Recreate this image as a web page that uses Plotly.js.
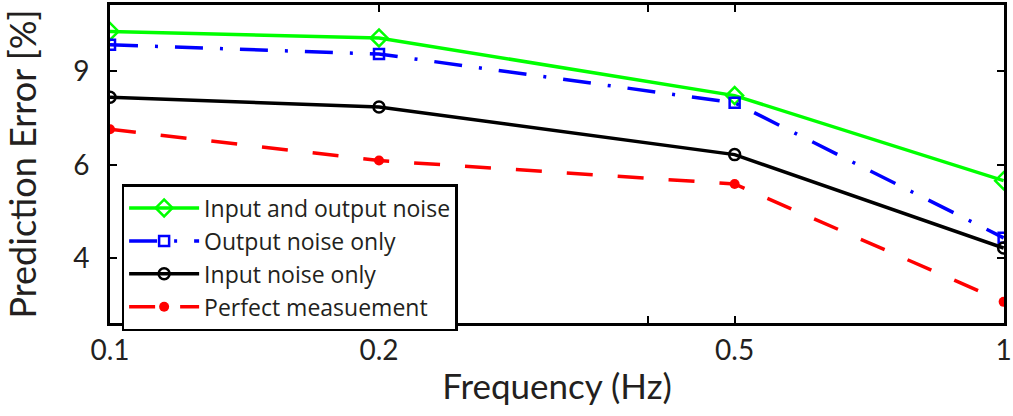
<!DOCTYPE html>
<html><head><meta charset="utf-8">
<script src="https://cdn.plot.ly/plotly-3.0.1.min.js"></script>
<style>html,body{margin:0;padding:0;background:#fff}#chart{width:1013px;height:416px}</style>
</head><body><div id="chart"></div>
<script>
const freq = [0.1, 0.2, 0.5, 1];
const inputOutputNoise = [10.7, 10.4, 8.1, 5.6];
const outputNoiseOnly = [10.1, 9.7, 7.85, 4.37];
const inputNoiseOnly = [8.04, 7.71, 6.27, 4.18];
const perfectMeasurement = [7.0, 6.11, 5.52, 3.31];
const seriesNames = ['Input and output noise', 'Output noise only', 'Input noise only', 'Perfect measuement'];
const xTickVals = [0.1, 0.2, 0.4, 0.5, 1];
const xTickText = ['0.1', '0.2', '', '0.5', '1'];
const yTickVals = [4, 6, 9];
const yTickText = ['4', '6', '9'];

const font = 'Lato, "Open Sans", sans-serif';
const legendFont = '"Open Sans", Lato, sans-serif';
const txt = '#231f20';
const traces = [
  {x: freq, y: inputOutputNoise, name: seriesNames[0], mode: 'lines+markers',
   line: {color: '#00ff00', width: 3.5}, marker: {symbol: 'diamond-open', size: 13, color: '#00ff00', line: {width: 2.5}}},
  {x: freq, y: outputNoiseOnly, name: seriesNames[1], mode: 'lines+markers',
   line: {color: '#0000ff', width: 3.5, dash: '28px,17px,3px,17px'}, marker: {symbol: 'square-open', size: 10, color: '#0000ff', line: {width: 2.5}}},
  {x: freq, y: inputNoiseOnly, name: seriesNames[2], mode: 'lines+markers',
   line: {color: '#000000', width: 3.5}, marker: {symbol: 'circle-open', size: 11, color: '#000000', line: {width: 2.5}}},
  {x: freq, y: perfectMeasurement, name: seriesNames[3], mode: 'lines+markers',
   line: {color: '#ff0000', width: 3.5, dash: '26px,25px'}, marker: {symbol: 'circle', size: 10, color: '#ff0000'}}
];

const layout = {
  width: 1013, height: 416,
  margin: {l: 110, r: 9, t: 5, b: 93},
  paper_bgcolor: '#fff', plot_bgcolor: '#fff',
  font: {family: font, color: txt},
  showlegend: true,
  legend: {x: 0.013, y: 0.437, xanchor: 'left', yanchor: 'top', bgcolor: '#fff',
    bordercolor: '#000', borderwidth: 2.5, font: {size: 23, family: legendFont, color: txt},
    itemwidth: 70, tracegroupgap: 0},
  xaxis: {type: 'log', range: [-1, 0.0004], tickvals: xTickVals, ticktext: xTickText,
    ticks: 'inside', ticklen: 7, tickwidth: 2, tickcolor: '#000',
    showline: true, linewidth: 3, linecolor: '#000', mirror: 'ticks',
    showgrid: false, zeroline: false, ticklabeloverflow: 'allow',
    tickfont: {size: 28, family: font, color: txt},
    title: {text: 'Frequency (Hz)', font: {size: 35, family: font, color: txt}, standoff: 10}},
  yaxis: {type: 'log', range: [Math.log10(3.02), Math.log10(12.0)], tickvals: yTickVals, ticktext: yTickText,
    ticks: 'inside', ticklen: 7, tickwidth: 2, tickcolor: '#000',
    showline: true, linewidth: 3, linecolor: '#000', mirror: 'ticks',
    showgrid: false, zeroline: false, ticklabelstandoff: 12,
    tickfont: {size: 28, family: font, color: txt},
    title: {text: 'Prediction Error [%]', font: {size: 36, family: font, color: txt}, standoff: 26}}
};
Plotly.newPlot('chart', traces, layout, {displayModeBar: false, staticPlot: true});
</script></body></html>
